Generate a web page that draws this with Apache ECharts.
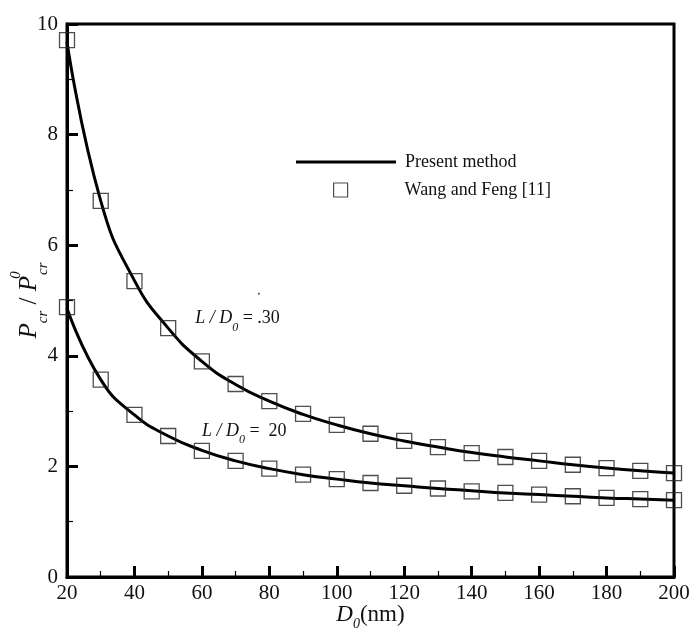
<!DOCTYPE html>
<html>
<head>
<meta charset="utf-8">
<script src="https://cdn.jsdelivr.net/npm/echarts@6/dist/echarts.min.js"></script>
<style>
html,body{margin:0;padding:0;background:#fff;}
#chart{width:691px;height:628px;}
</style>
</head>
<body>
<div id="chart"></div>
<script>
// Diameter D0 (nm)
var diameters = [20,30,40,50,60,70,80,90,100,110,120,130,140,150,160,170,180,190,200];
// Present method curves (P_cr / P_cr^0)
var curve30 = [9.68,6.80,5.36,4.50,3.90,3.48,3.18,2.94,2.75,2.59,2.46,2.35,2.25,2.17,2.10,2.03,1.97,1.92,1.88];
var curve20 = [4.86,3.57,2.93,2.55,2.29,2.10,1.96,1.85,1.77,1.70,1.65,1.60,1.56,1.52,1.49,1.46,1.43,1.41,1.39];
// Wang and Feng [11] reference points
var wang30 = [9.71,6.80,5.35,4.50,3.90,3.49,3.18,2.95,2.75,2.59,2.46,2.35,2.24,2.17,2.10,2.03,1.97,1.92,1.88];
var wang20 = [4.88,3.57,2.93,2.55,2.28,2.10,1.96,1.85,1.77,1.70,1.65,1.60,1.55,1.52,1.49,1.46,1.43,1.41,1.39];
// Axis ticks
var xTicks = {min:20, max:200, step:20};
var yTicks = {min:0, max:10, step:2};

function pairs(xs, ys){ return xs.map(function(x,i){ return [x, ys[i]]; }); }

var FONT = "'Liberation Serif','DejaVu Serif',serif";
var chart = echarts.init(document.getElementById('chart'));

var annRich = {
  it:{fontFamily:FONT, fontStyle:'italic', fontSize:18, color:'#111'},
  sb:{fontFamily:FONT, fontStyle:'italic', fontSize:12, color:'#111', verticalAlign:'bottom', lineHeight:14, padding:[0,0,-6,0]},
  rg:{fontFamily:FONT, fontSize:18, color:'#111'}
};

var option = {
  backgroundColor:'#fff',
  animation:false,
  grid:{left:67, right:17, top:24, bottom:51, outerBoundsMode:'none', containLabel:false,
        show:true, borderColor:'#000', borderWidth:3, backgroundColor:'transparent'},
  legend:[
    {data:[{name:'Present method', icon:'path://M0,0L100,0L100,3L0,3Z', itemStyle:{color:'#000', borderWidth:0}}],
     left:291, top:148, itemWidth:100, itemHeight:14, itemGap:0,
     textStyle:{fontFamily:FONT, fontSize:18, color:'#111', padding:[0,0,0,4]}, selectedMode:false},
    {data:[{name:'Wang and Feng [11]', icon:'rect'}], left:328, top:176, itemWidth:14, itemHeight:14,
     itemStyle:{color:'transparent', borderColor:'#222', borderWidth:1.2},
     textStyle:{fontFamily:FONT, fontSize:18, color:'#111', padding:[0,0,0,52]}, selectedMode:false}
  ],
  xAxis:{
    type:'value', min:xTicks.min, max:xTicks.max, interval:xTicks.step,
    axisLine:{show:true, onZero:false, lineStyle:{color:'#000', width:3}},
    axisTick:{show:true, inside:true, length:11, lineStyle:{color:'#000', width:3}},
    minorTick:{show:true, splitNumber:2, length:6, lineStyle:{color:'#000', width:1.2}},
    splitLine:{show:false},
    axisLabel:{fontFamily:FONT, fontSize:21, color:'#111', margin:6},
    name:'{it|D}{sb|0}{rg|(nm)}', nameLocation:'middle', nameGap:26, nameMoveOverlap:false,
    nameTextStyle:{rich:{
      it:{fontFamily:FONT, fontStyle:'italic', fontSize:23, color:'#111'},
      sb:{fontFamily:FONT, fontStyle:'italic', fontSize:14, color:'#111', verticalAlign:'bottom', padding:[0,0,-5,0]},
      rg:{fontFamily:FONT, fontSize:23, color:'#111'}
    }}
  },
  yAxis:{
    type:'value', min:yTicks.min, max:yTicks.max, interval:yTicks.step,
    axisLine:{show:true, onZero:false, lineStyle:{color:'#000', width:3}},
    axisTick:{show:true, inside:true, length:11, lineStyle:{color:'#000', width:3}},
    minorTick:{show:true, splitNumber:2, length:6, lineStyle:{color:'#000', width:1.2}},
    splitLine:{show:false},
    axisLabel:{fontFamily:FONT, fontSize:21, color:'#111', margin:9},
    name:'{it|P}{sb|cr}{rg| / }{it|P}{sp|0}{sb|cr}', nameLocation:'middle', nameRotate:90, nameGap:25, nameMoveOverlap:false,
    nameTextStyle:{rich:{
      it:{fontFamily:FONT, fontStyle:'italic', fontSize:25, color:'#111'},
      sb:{fontFamily:FONT, fontStyle:'italic', fontSize:15, color:'#111', verticalAlign:'bottom', padding:[0,0,-9,0]},
      sp:{fontFamily:FONT, fontStyle:'italic', fontSize:15, color:'#111', verticalAlign:'top', width:0, padding:[-8,0,0,1]},
      rg:{fontFamily:FONT, fontSize:25, color:'#111'}
    }}
  },
  series:[
    {name:'Present method', type:'line', data:pairs(diameters, curve30), smooth:0.5,
     showSymbol:false, symbol:'none', lineStyle:{color:'#000', width:3}, itemStyle:{color:'#000'}, z:2,
     markPoint:{silent:true, animation:false, data:[
       {coord:[58, 4.67], symbol:'circle', symbolSize:0,
        label:{show:true, position:'right', distance:0, formatter:'{it|L / D}{sb|0}{rg| = .30}', rich:annRich}},
       {coord:[76.9, 5.12], symbol:'circle', symbolSize:2, itemStyle:{color:'#444'}, label:{show:false}}
     ]}},
    {name:'Present method', type:'line', data:pairs(diameters, curve20), smooth:0.5,
     showSymbol:false, symbol:'none', lineStyle:{color:'#000', width:3}, itemStyle:{color:'#000'}, z:2,
     markPoint:{silent:true, animation:false, data:[
       {coord:[60, 2.64], symbol:'circle', symbolSize:0,
        label:{show:true, position:'right', distance:0, formatter:'{it|L / D}{sb|0}{rg| =  20}', rich:annRich}}
     ]}},
    {name:'Wang and Feng [11]', type:'scatter', data:pairs(diameters, wang30), symbol:'rect', symbolSize:15,
     clip:false, itemStyle:{color:'transparent', borderColor:'#222', borderWidth:1.3}, z:3},
    {name:'Wang and Feng [11]', type:'scatter', data:pairs(diameters, wang20), symbol:'rect', symbolSize:15,
     clip:false, itemStyle:{color:'transparent', borderColor:'#222', borderWidth:1.3}, z:3}
  ]
};
chart.setOption(option);
</script>
</body>
</html>
